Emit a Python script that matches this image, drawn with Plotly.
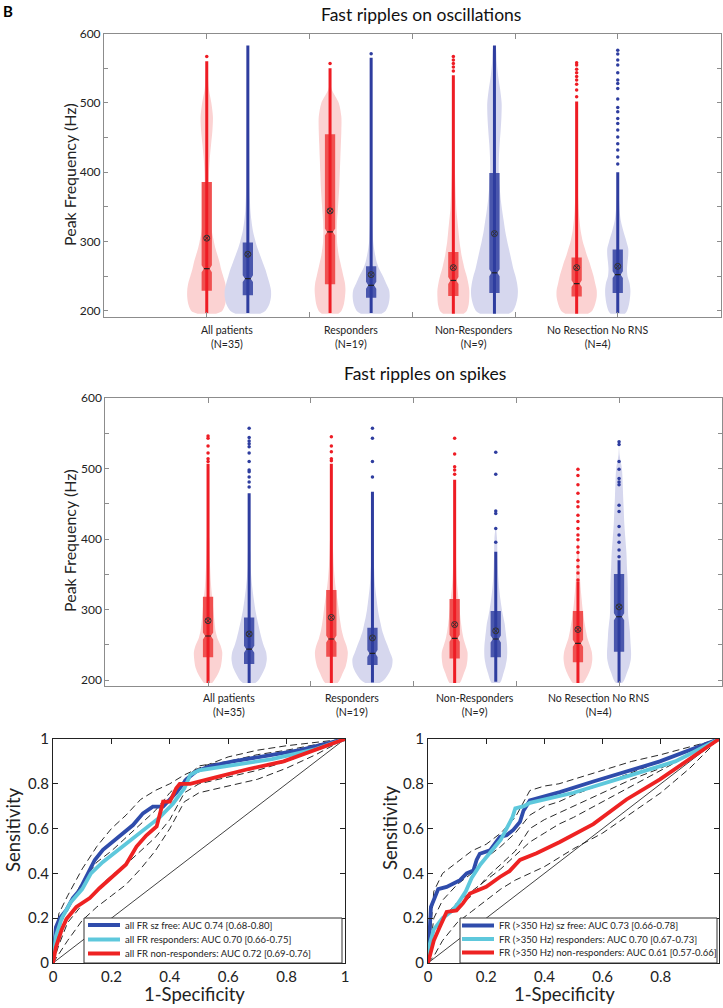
import plotly.graph_objects as go

W, H = 723, 1008
FONT = "Lato"

# ---------------- data: violin panels ----------------
GROUPS = ["All patients", "Responders", "Non-Responders", "No Resection No RNS"]
GROUP_N = [35, 19, 9, 4]
GROUP_POS = [1.2, 2.4, 3.6, 4.8]

# frequency levels (Hz) at which the violin densities are given
LEVELS = [196, 200, 210, 220, 230, 240, 250, 260, 270, 280, 290, 300, 315, 330,
          345, 360, 380, 400, 420, 440, 460, 480, 500, 520, 540, 560, 580]

# half-widths of the density (hundredths of a category step), one list per group
OSC_RED_DENSITY = [
    [9, 15, 18, 19, 19, 18, 16, 14, 12.5, 10.5, 8.5, 7, 5, 4, 3, 2.5, 2, 2.2, 3, 4.2, 5.5, 6, 4.5, 2, 1, 0, 0],
    [8, 11, 13.5, 14.5, 15, 14.5, 13, 11.5, 10, 8.5, 7.5, 6.8, 6.5, 6.8, 7.5, 8.2, 9, 9.5, 10, 10.5, 11, 11, 8.5, 1.5, 0, 0, 0],
    [10, 13, 15, 15.5, 15.5, 14.5, 13, 11, 9.5, 8, 7, 6, 5, 4, 3, 2.5, 2, 1.6, 1.3, 1, 0, 0, 0, 0, 0, 0, 0],
    [11, 15, 18, 19.5, 19.5, 18, 16.5, 14.5, 12.5, 10, 8, 6, 4, 2.8, 2, 1.5, 1.2, 1, 0, 0, 0, 0, 0, 0, 0, 0, 0],
]
OSC_BLUE_DENSITY = [
    [12, 17, 21, 22.5, 22.5, 21, 19, 17, 14.5, 12, 9.5, 7.5, 5, 3.5, 2.5, 2, 1.6, 1.5, 1.4, 1.3, 1.2, 1.1, 1, 1, 0.8, 0.6, 0],
    [10, 14, 17, 18, 17.5, 14.5, 11.5, 8, 5.5, 4, 2.8, 2, 1.5, 1.2, 1, 0, 0, 0, 0, 0, 0, 0, 0, 0, 0, 0, 0],
    [14, 18, 21, 22.5, 22.8, 22, 20.5, 18.5, 17, 15.5, 14, 12.5, 10.5, 9, 7.5, 6.2, 5, 4.2, 4.3, 5, 6, 6.8, 7, 5.5, 3.5, 2.2, 1],
    [7, 9, 11, 12, 12.3, 11.5, 9.5, 9, 9.5, 10.2, 10.2, 8.5, 5.5, 3, 1.8, 1.2, 0, 0, 0, 0, 0, 0, 0, 0, 0, 0, 0],
]
SPK_RED_DENSITY = [
    [4, 6, 10, 12.5, 13.5, 13.8, 12, 9, 7.3, 6.5, 5.8, 5.2, 4.2, 3.2, 2.5, 2, 1.5, 1.2, 0, 0, 0, 0, 0, 0, 0, 0, 0],
    [6, 8, 11, 14, 15.5, 16, 14.5, 12, 10.2, 9, 8, 7.2, 5.8, 4.3, 3.2, 2.4, 1.8, 1.3, 0, 0, 0, 0, 0, 0, 0, 0, 0],
    [5, 6.5, 9, 11.5, 12.5, 12.5, 10.5, 8.5, 7.2, 6.3, 5.5, 4.8, 3.8, 2.8, 2, 1.6, 1.2, 0, 0, 0, 0, 0, 0, 0, 0, 0, 0],
    [5, 7, 10.5, 13, 14, 13.5, 11.5, 9.2, 7.8, 6.6, 5.5, 4.6, 3.6, 2.7, 2, 1.5, 1, 0, 0, 0, 0, 0, 0, 0, 0, 0, 0],
]
SPK_BLUE_DENSITY = [
    [6, 9, 13, 16, 17.2, 16.5, 14, 12, 10.3, 8.8, 7.3, 6, 4.5, 3.2, 2.2, 1.5, 1.2, 0, 0, 0, 0, 0, 0, 0, 0, 0, 0],
    [7, 11, 16, 19, 19.5, 17, 14.5, 11.8, 9.5, 8, 6.5, 5.3, 4, 2.8, 2, 1.5, 0, 0, 0, 0, 0, 0, 0, 0, 0, 0, 0],
    [4, 5.5, 7.5, 9.5, 10.8, 11.2, 11, 10.3, 9.5, 8.7, 7.3, 6, 4.5, 3.3, 2.5, 2, 1.6, 1.3, 0, 0, 0, 0, 0, 0, 0, 0, 0],
    [3, 5, 7.5, 10, 11.5, 11.7, 11.3, 10.9, 10.5, 9.8, 9, 8.7, 8.5, 8.5, 8.2, 7.7, 7.2, 6.2, 5.2, 4.6, 4, 3.5, 2.8, 0.5, 0, 0, 0],
]

# box statistics: [q1, median, q3, mean]
OSC_RED_BOX = [[229, 261, 386, 305], [238.4, 314, 455, 344.3], [221.5, 244, 285, 262.5], [221, 239.4, 277, 262.5]]
OSC_BLUE_BOX = [[222.5, 246.6, 298.6, 281.8], [219, 237, 264.4, 252.4], [226, 255, 399, 311.6], [226, 252.4, 288.5, 264.4]]
SPK_RED_BOX = [[232.6, 262.7, 318.4, 284.4], [233.4, 258.5, 328, 289], [231, 259.5, 315, 279], [225.5, 252.4, 298, 272]]
SPK_BLUE_BOX = [[223, 244, 289, 265.6], [221.7, 238, 274.5, 260], [232.6, 258.5, 298, 270], [240.5, 290, 350.6, 304]]

# dense range of the individual events [low, high]
OSC_RED_RANGE = [[197, 560], [197, 550], [196, 540], [196, 502]]
OSC_BLUE_RANGE = [[197, 583], [197, 565], [196, 583], [197, 400]]
SPK_RED_RANGE = [[196, 507], [196, 507], [196, 484], [196, 340]]
SPK_BLUE_RANGE = [[196, 465], [197, 467], [198, 382], [197, 370]]

# sparse high-frequency events
OSC_RED_DOTS = [[567], [557], [567, 562, 557, 552, 546],
                [558, 554.7, 548.5, 543.5, 538, 533, 527, 518.6, 509]]
OSC_BLUE_DOTS = [[], [571], [],
                 [576, 570.5, 562, 554.7, 543.5, 533, 528, 521, 505.6, 493.6, 487.4, 477.7,
                  470.5, 460.8, 451, 441, 432, 422, 412]]
SPK_RED_DOTS = [[546, 543, 532, 522, 514, 510], [545, 532, 524, 514, 511], [543, 520.5, 502.5, 498, 492],
                [499, 490, 477, 465, 453, 446, 434, 425, 415, 406, 399, 389, 381, 370, 361, 352, 342]]
SPK_BLUE_DOTS = [[557, 544, 539, 535, 531, 522, 510, 498, 495.5, 488, 481, 474], [557, 543, 510, 488],
                 [523, 492, 440, 436.5, 415, 395.5],
                 [538, 534, 510, 499, 486, 481, 477, 448, 439, 418, 406, 395.5, 384.6, 375]]

Y_TICKS = [200, 250, 300, 350, 400, 450, 500, 550, 600]
Y_TICK_TEXT = ["200", "", "300", "", "400", "", "500", "", "600"]

# ---------------- data: ROC panels ----------------
ROC_TICKS = [0, 0.2, 0.4, 0.6, 0.8, 1]
ROC_TICK_TEXT = ["0", "0.2", "0.4", "0.6", "0.8", "1"]

A_BLUE_FPR = [0, 0.01, 0.023, 0.046, 0.068, 0.091, 0.108, 0.126, 0.143, 0.171, 0.205, 0.24, 0.274, 0.308,
              0.342, 0.377, 0.4, 0.422, 0.457, 0.49, 0.536, 0.616, 0.73, 0.845, 1]
A_BLUE_TPR = [0, 0.16, 0.2, 0.237, 0.29, 0.325, 0.37, 0.415, 0.46, 0.505, 0.542, 0.58, 0.616, 0.668,
              0.698, 0.698, 0.73, 0.76, 0.82, 0.855, 0.878, 0.9, 0.925, 0.95, 1]
A_CYAN_FPR = [0, 0.01, 0.03, 0.06, 0.1, 0.13, 0.17, 0.22, 0.27, 0.32, 0.365, 0.41, 0.45, 0.47, 0.5, 0.6,
              0.75, 0.9, 1]
A_CYAN_TPR = [0, 0.12, 0.2, 0.27, 0.33, 0.4, 0.45, 0.5, 0.55, 0.6, 0.65, 0.71, 0.78, 0.84, 0.86, 0.88,
              0.91, 0.955, 1]
A_RED_FPR = [0, 0.01, 0.03, 0.046, 0.08, 0.126, 0.16, 0.205, 0.25, 0.286, 0.32, 0.355, 0.377, 0.4, 0.422,
             0.434, 0.47, 0.56, 0.67, 0.79, 1]
A_RED_TPR = [0, 0.07, 0.15, 0.196, 0.25, 0.29, 0.335, 0.386, 0.44, 0.52, 0.57, 0.61, 0.72, 0.72, 0.78,
             0.8, 0.8, 0.83, 0.866, 0.9, 1]

B_BLUE_FPR = [0, 0.005, 0.01, 0.024, 0.035, 0.064, 0.087, 0.11, 0.133, 0.156, 0.167, 0.178, 0.213, 0.247,
              0.27, 0.293, 0.316, 0.328, 0.35, 0.453, 0.568, 0.682, 0.797, 1]
B_BLUE_TPR = [0, 0.13, 0.25, 0.295, 0.33, 0.34, 0.355, 0.37, 0.4, 0.413, 0.46, 0.488, 0.503, 0.563,
              0.57, 0.594, 0.63, 0.68, 0.726, 0.763, 0.81, 0.854, 0.9, 1]
B_CYAN_FPR = [0, 0.005, 0.02, 0.05, 0.08, 0.1, 0.13, 0.15, 0.18, 0.22, 0.25, 0.27, 0.29, 0.3, 0.33, 0.35,
              0.5, 0.7, 0.85, 1]
B_CYAN_TPR = [0, 0.08, 0.15, 0.2, 0.23, 0.26, 0.32, 0.38, 0.44, 0.5, 0.55, 0.6, 0.65, 0.69, 0.7, 0.715,
              0.76, 0.84, 0.9, 1]
B_RED_FPR = [0, 0.01, 0.02, 0.04, 0.064, 0.098, 0.12, 0.144, 0.2, 0.247, 0.28, 0.316, 0.373, 0.453, 0.568,
             0.682, 0.797, 1]
B_RED_TPR = [0, 0.05, 0.1, 0.16, 0.228, 0.235, 0.266, 0.31, 0.34, 0.384, 0.41, 0.46, 0.49, 0.54, 0.62,
             0.73, 0.82, 1]

# confidence bounds (dashed) on a common FPR grid
CI_FPR = [0, 0.02, 0.05, 0.1, 0.15, 0.2, 0.25, 0.3, 0.35, 0.4, 0.45, 0.5, 0.6, 0.7, 0.8, 0.9, 1]
A_CI_TPR = [
    [0, 0.22, 0.3, 0.42, 0.52, 0.6, 0.66, 0.73, 0.77, 0.8, 0.84, 0.87, 0.92, 0.95, 0.97, 0.985, 1],
    [0, 0.15, 0.25, 0.36, 0.45, 0.5, 0.56, 0.62, 0.68, 0.76, 0.82, 0.88, 0.9, 0.93, 0.95, 0.975, 1],
    [0, 0.08, 0.18, 0.26, 0.33, 0.39, 0.44, 0.5, 0.56, 0.64, 0.76, 0.8, 0.83, 0.86, 0.9, 0.95, 1],
    [0, 0.04, 0.1, 0.19, 0.25, 0.3, 0.35, 0.42, 0.5, 0.6, 0.72, 0.76, 0.79, 0.82, 0.87, 0.93, 1],
]
B_CI_TPR = [
    [0, 0.32, 0.4, 0.45, 0.5, 0.53, 0.58, 0.65, 0.77, 0.79, 0.8, 0.82, 0.86, 0.9, 0.93, 0.965, 1],
    [0, 0.2, 0.28, 0.35, 0.4, 0.47, 0.52, 0.58, 0.66, 0.7, 0.72, 0.75, 0.8, 0.85, 0.9, 0.95, 1],
    [0, 0.15, 0.2, 0.25, 0.3, 0.38, 0.44, 0.5, 0.6, 0.64, 0.67, 0.7, 0.76, 0.82, 0.87, 0.93, 1],
    [0, 0.1, 0.2, 0.27, 0.32, 0.37, 0.42, 0.48, 0.54, 0.58, 0.62, 0.65, 0.72, 0.79, 0.86, 0.93, 1],
    [0, 0.03, 0.1, 0.18, 0.23, 0.28, 0.33, 0.37, 0.4, 0.43, 0.47, 0.51, 0.58, 0.67, 0.76, 0.87, 1],
]

A_NAMES = ["all FR sz free: AUC 0.74 [0.68-0.80]",
           "all FR responders: AUC 0.70 [0.66-0.75]",
           "all FR non-responders: AUC 0.72 [0.69-0.76]"]
B_NAMES = ["FR (>350 Hz) sz free: AUC 0.73 [0.66-0.78]",
           "FR (>350 Hz) responders: AUC 0.70 [0.67-0.73]",
           "FR (>350 Hz) non-responders: AUC 0.61 [0.57-0.66]"]
ROC_COLORS = ["#2f4cab", "#5ec8dc", "#ee2222"]

# ---------------- styles ----------------
RED = dict(violin="#fbd2d2", box="#f05050", line="#ee1c24")
BLUE = dict(violin="#d6d7ee", box="#4a57ad", line="#2e3d9f")
PAIR_OFFSET = 0.2
BOX_HW = 0.05
NOTCH_D = 0.022
NOTCH_H = 5


def px_x(p):
    return p / W


def px_y(p):
    return 1 - p / H


fig = go.Figure()


def add_violin(xa, ya, c, widths, box, rng, dots, col):
    last = max(i for i, w in enumerate(widths) if w > 0)
    n = min(last + 2, len(LEVELS))
    lv = LEVELS[:n]
    ws = widths[:n]
    xs = [c + w / 100 for w in ws] + [c - w / 100 for w in reversed(ws)]
    ys = lv + lv[::-1]
    fig.add_trace(go.Scatter(x=xs, y=ys, mode="lines", fill="toself", fillcolor=col["violin"],
                             line=dict(width=0, shape="spline", smoothing=0.8),
                             xaxis=xa, yaxis=ya, hoverinfo="skip", showlegend=False))
    q1, med, q3, mean = box
    bx = [c - BOX_HW, c + BOX_HW, c + BOX_HW, c + BOX_HW - NOTCH_D, c + BOX_HW, c + BOX_HW,
          c - BOX_HW, c - BOX_HW, c - BOX_HW + NOTCH_D, c - BOX_HW, c - BOX_HW]
    by = [q1, q1, med - NOTCH_H, med, med + NOTCH_H, q3, q3, med + NOTCH_H, med, med - NOTCH_H, q1]
    fig.add_trace(go.Scatter(x=bx, y=by, mode="lines", fill="toself", fillcolor=col["box"],
                             line=dict(width=0), xaxis=xa, yaxis=ya, hoverinfo="skip", showlegend=False))
    fig.add_trace(go.Scatter(x=[c, c], y=rng, mode="lines", line=dict(color=col["line"], width=3),
                             xaxis=xa, yaxis=ya, hoverinfo="skip", showlegend=False))
    if dots:
        fig.add_trace(go.Scatter(x=[c] * len(dots), y=dots, mode="markers",
                                 marker=dict(color=col["line"], size=3.5, line=dict(width=0)),
                                 xaxis=xa, yaxis=ya, hoverinfo="skip", showlegend=False))
    fig.add_trace(go.Scatter(x=[c - BOX_HW + NOTCH_D, c + BOX_HW - NOTCH_D], y=[med, med], mode="lines",
                             line=dict(color="#222222", width=1.2),
                             xaxis=xa, yaxis=ya, hoverinfo="skip", showlegend=False))
    fig.add_trace(go.Scatter(x=[c], y=[mean], mode="markers",
                             marker=dict(symbol="circle-x-open", size=6, color="#333333", line=dict(width=1)),
                             xaxis=xa, yaxis=ya, hoverinfo="skip", showlegend=False))


for i, gp in enumerate(GROUP_POS):
    add_violin("x", "y", gp - PAIR_OFFSET, OSC_RED_DENSITY[i], OSC_RED_BOX[i], OSC_RED_RANGE[i], OSC_RED_DOTS[i], RED)
    add_violin("x", "y", gp + PAIR_OFFSET, OSC_BLUE_DENSITY[i], OSC_BLUE_BOX[i], OSC_BLUE_RANGE[i], OSC_BLUE_DOTS[i], BLUE)
    add_violin("x2", "y2", gp - PAIR_OFFSET, SPK_RED_DENSITY[i], SPK_RED_BOX[i], SPK_RED_RANGE[i], SPK_RED_DOTS[i], RED)
    add_violin("x2", "y2", gp + PAIR_OFFSET, SPK_BLUE_DENSITY[i], SPK_BLUE_BOX[i], SPK_BLUE_RANGE[i], SPK_BLUE_DOTS[i], BLUE)


def add_roc(xa, ya, ci, curves):
    for t in ci:
        fig.add_trace(go.Scatter(x=CI_FPR, y=t, mode="lines", line=dict(color="#111111", width=0.9, dash="7px,4px"),
                                 xaxis=xa, yaxis=ya, hoverinfo="skip", showlegend=False))
    fig.add_trace(go.Scatter(x=[0, 1], y=[0, 1], mode="lines", line=dict(color="#111111", width=0.8),
                             xaxis=xa, yaxis=ya, hoverinfo="skip", showlegend=False))
    for (fx, ty), colr in zip(curves, ROC_COLORS):
        fig.add_trace(go.Scatter(x=fx, y=ty, mode="lines", line=dict(color=colr, width=3.8),
                                 xaxis=xa, yaxis=ya, showlegend=False, cliponaxis=False))


add_roc("x3", "y3", A_CI_TPR, [(A_BLUE_FPR, A_BLUE_TPR), (A_CYAN_FPR, A_CYAN_TPR), (A_RED_FPR, A_RED_TPR)])
add_roc("x4", "y4", B_CI_TPR, [(B_BLUE_FPR, B_BLUE_TPR), (B_CYAN_FPR, B_CYAN_TPR), (B_RED_FPR, B_RED_TPR)])

# ---------------- axes ----------------
vx = dict(range=[0, 6], tickvals=[1, 2, 3, 4, 5], showticklabels=False, ticks="inside", ticklen=5,
          tickcolor="#8c8c8c", showline=True, linecolor="#8c8c8c", linewidth=1, mirror="ticks",
          showgrid=False, zeroline=False, fixedrange=True)
vy = dict(tickvals=Y_TICKS, ticktext=Y_TICK_TEXT, ticks="inside", ticklen=4, tickcolor="#8c8c8c",
          showline=True, linecolor="#8c8c8c", linewidth=1, mirror="ticks", showgrid=False, zeroline=False,
          tickfont=dict(family=FONT, size=12, color="#222222"), automargin=False)
rx = dict(range=[0, 1], tickvals=ROC_TICKS, ticktext=ROC_TICK_TEXT, ticks="inside", ticklen=5, tickcolor="#222222",
          showline=True, linecolor="#222222", linewidth=1, mirror="ticks", showgrid=False, zeroline=False,
          tickfont=dict(family=FONT, size=15, color="#222222"), automargin=False)

fig.update_layout(
    width=W, height=H, margin=dict(l=0, r=0, t=0, b=0), paper_bgcolor="white", plot_bgcolor="white",
    showlegend=False, font=dict(family=FONT, color="#222222"),
    xaxis=dict(vx, domain=[px_x(104), px_x(720.5)], anchor="y"),
    yaxis=dict(vy, domain=[px_y(317), px_y(33.6)], range=[191.3, 600], anchor="x"),
    xaxis2=dict(vx, domain=[px_x(105.3), px_x(721.8)], anchor="y2"),
    yaxis2=dict(vy, domain=[px_y(685.7), px_y(398)], range=[192.3, 600], anchor="x2"),
    xaxis3=dict(rx, domain=[px_x(53), px_x(345)], anchor="y3"),
    yaxis3=dict(rx, domain=[px_y(963), px_y(739)], anchor="x3"),
    xaxis4=dict(rx, domain=[px_x(428), px_x(719)], anchor="y4"),
    yaxis4=dict(rx, domain=[px_y(963), px_y(739)], anchor="x4"),
)

ann = []
# category labels
for gp, g, n in zip(GROUP_POS, GROUPS, GROUP_N):
    for xa, yc in (("x", 336.5), ("x2", 705)):
        ann.append(dict(x=gp, xref=xa, y=px_y(yc), yref="paper", text=f"{g}<br>(N={n})", showarrow=False,
                        font=dict(family=FONT, size=10.5, color="#222222"), align="center",
                        xanchor="center", yanchor="middle"))
# titles
ann.append(dict(x=px_x(421), y=px_y(2), xref="paper", yref="paper", text="Fast ripples on oscillations",
                showarrow=False, font=dict(family=FONT, size=17.5, color="#111111"), xanchor="center", yanchor="top"))
ann.append(dict(x=px_x(425), y=px_y(373), xref="paper", yref="paper", text="Fast ripples on spikes",
                showarrow=False, font=dict(family=FONT, size=17.5, color="#111111"), xanchor="center", yanchor="middle"))
for yc in (175, 541):
    ann.append(dict(x=px_x(69), y=px_y(yc), xref="paper", yref="paper", text="Peak Frequency (Hz)", textangle=-90,
                    showarrow=False, font=dict(family=FONT, size=16, color="#222222"),
                    xanchor="center", yanchor="middle"))
for xc, yc in ((13, 830), (390, 828)):
    ann.append(dict(x=px_x(xc), y=px_y(yc), xref="paper", yref="paper", text="Sensitivity", textangle=-90,
                    showarrow=False, font=dict(family=FONT, size=18.5, color="#222222"),
                    xanchor="center", yanchor="middle"))
for xc in (194, 564):
    ann.append(dict(x=px_x(xc), y=px_y(994), xref="paper", yref="paper", text="1-Specificity",
                    showarrow=False, font=dict(family=FONT, size=18.5, color="#222222"),
                    xanchor="center", yanchor="middle"))
ann.append(dict(x=px_x(1), y=px_y(0), xref="paper", yref="paper", text="<b>B</b>", showarrow=False,
                font=dict(family=FONT, size=15, color="#000000"), xanchor="left", yanchor="top"))

# legends (drawn as boxes with line samples)
shapes = []
for names, (bx0, bx1, by0, by1, lx0, lx1, tx, rows) in (
        (A_NAMES, (84, 342, 918, 963, 88, 120, 123, (925, 939.5, 953.5))),
        (B_NAMES, (460, 717, 918, 963, 462, 494, 497, (925.5, 939, 952.5)))):
    shapes.append(dict(type="rect", xref="paper", yref="paper", x0=px_x(bx0), x1=px_x(bx1), y0=px_y(by1),
                       y1=px_y(by0), fillcolor="white", line=dict(color="#333333", width=1), layer="above"))
    for name, colr, ry in zip(names, ROC_COLORS, rows):
        shapes.append(dict(type="line", xref="paper", yref="paper", x0=px_x(lx0), x1=px_x(lx1), y0=px_y(ry),
                           y1=px_y(ry), line=dict(color=colr, width=4), layer="above"))
        ann.append(dict(x=px_x(tx), y=px_y(ry), xref="paper", yref="paper", text=name, showarrow=False,
                        font=dict(family=FONT, size=9.5, color="#222222"), xanchor="left", yanchor="middle"))

fig.update_layout(annotations=ann, shapes=shapes)
fig.write_html("out.html", config={"displayModeBar": False, "staticPlot": True},
               post_script="document.body.style.margin='0';document.body.style.overflow='hidden';")
